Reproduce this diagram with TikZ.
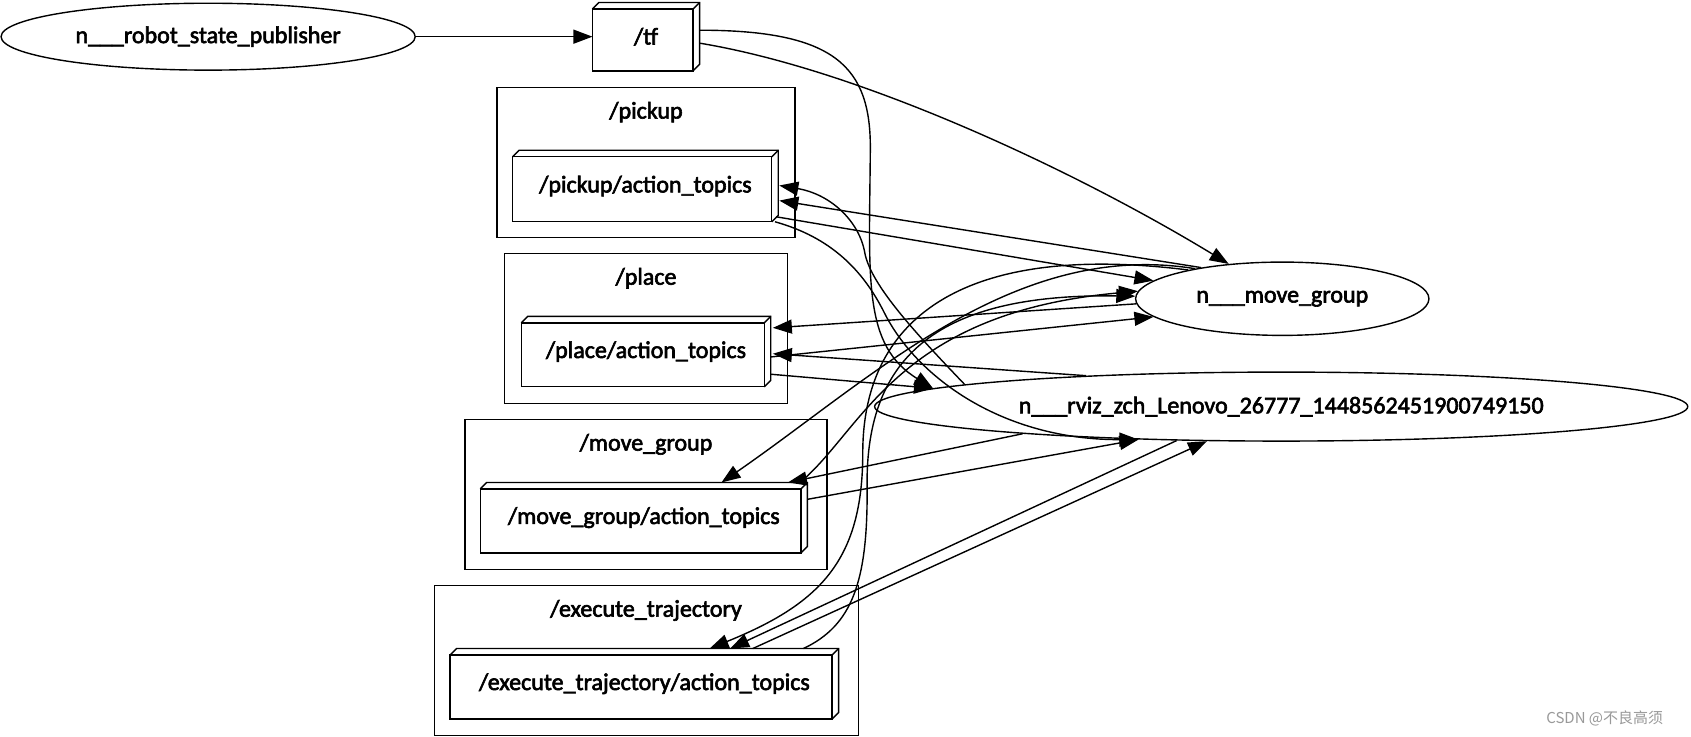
\documentclass[tikz,border=0pt]{standalone}
\usepackage{fontspec}
\setmainfont{Carlito}[FakeBold=2.5]
\newfontfamily\cjkfont{Noto Sans CJK SC}
\usetikzlibrary{arrows.meta,shapes.geometric}
\newcommand\boxthreed[1]{%
  \draw (#1.south west) rectangle ([shift={(-6,6)}]#1.north east);
  \draw ([shift={(0,6)}]#1.north west) -- ([shift={(6,0)}]#1.north west) -- (#1.north east) -- ([shift={(0,-6)}]#1.south east) -- ([shift={(-6,0)}]#1.south east);
  \draw ([shift={(-6,6)}]#1.north east) -- (#1.north east);
}
\begin{document}
\begin{tikzpicture}[x=1.0784pt,y=-1.0784pt,line width=1.4pt,
  lbl/.style={font=\fontsize{24}{26}\selectfont},
  ell/.style={draw,ellipse,inner sep=0pt,lbl},
  topicbox/.style={inner sep=0pt,lbl},
  clus/.style={draw,inner sep=0pt,minimum height=149.9pt},
  edge/.style={-{Triangle[length=19pt,width=14pt]}}]
\useasboundingbox (0,0) rectangle (1568,683);
\fill[white] (0,0) rectangle (1568,683);

% clusters
\node[clus,minimum width=297.6pt] (cpick) at (599,150.5) {};
\node[clus,minimum width=282.5pt] (cplace) at (599,304.5) {};
\node[clus,minimum width=362.3pt] (cmove) at (599,458.5) {};
\node[clus,minimum width=423.8pt] (cexec) at (599.5,612.5) {};
\node[lbl] (cpickL) at (599,104) {/pickup};
\node[lbl] (cplaceL) at (599,258) {/place};
\node[lbl] (cmoveL) at (599,412) {/move\_group};
\node[lbl] (cexecL) at (599,566) {/execute\_trajectory};

% ellipse nodes
\node[ell,minimum width=414.1pt,minimum height=66.9pt] (rsp) at (193,34) {n\_\_\_robot\_state\_publisher};
\node[ell,minimum width=293.3pt,minimum height=73.3pt] (mg) at (1189,277) {n\_\_\_move\_group};
\node[ell,minimum width=813.1pt,minimum height=69pt] (rviz) at (1188,377) {n\_\_\_rviz\_zch\_Lenovo\_26777\_1448562451900749150};

% topic boxes
\node[topicbox,minimum width=105.7pt,minimum height=66.9pt] (tf) at (599,34) {/tf};
\node[topicbox,minimum width=264.2pt,minimum height=70.1pt] (pa) at (598.5,172.5) {/pickup/action\_topics};
\node[topicbox,minimum width=248pt,minimum height=69pt] (pla) at (599,326) {/place/action\_topics};
\node[topicbox,minimum width=325.7pt,minimum height=69pt] (mga) at (597,480) {/move\_group/action\_topics};
\node[topicbox,minimum width=387.1pt,minimum height=69pt] (exa) at (597.5,634) {/execute\_trajectory/action\_topics};
\boxthreed{tf}
\boxthreed{pa}
\boxthreed{pla}
\boxthreed{mga}
\boxthreed{exa}

% edges
\draw[edge] (rsp.east) -- (tf.west);
\draw[edge] ([shift={(0,6)}]tf.east) .. controls (800,65) and (1000,160) .. (mg.147);
\draw[edge] ([shift={(0,-6)}]tf.east) .. controls (775,28) and (808,62) .. (807,140) .. controls (806,260) and (800,320) .. (rviz.177.3);

\draw[edge] (rviz.176.2) .. controls (850,310) and (808,265) .. (802,235) .. controls (797,205) and (770,180) .. ([shift={(1,-0.5)}]pa.east);
\draw[edge] (mg.159.8) -- ([shift={(1,13.5)}]pa.east);
\draw[edge] ([shift={(-2,28.5)}]pa.east) -- (mg.172.8);
\draw[edge] ([shift={(-3,0)}]pa.south east) .. controls (770,220) and (800,250) .. (820,290) .. controls (850,350) and (930,408) .. (rviz.193.8);

\draw[edge] (mg.182.6) -- ([shift={(2,-22)}]pla.east);
\draw[edge] (rviz.171.7) -- ([shift={(2,2)}]pla.east);
\draw[edge] ([shift={(0,5)}]pla.east) -- (mg.188);
\draw[edge] ([shift={(0,21)}]pla.east) -- (rviz.177.3);

\draw[edge] (mg.161.6) .. controls (940,222) and (810,350) .. ([shift={(72,0)}]mga.north);
\draw[edge] (rviz.186.6) -- ([shift={(-18,0)}]mga.north east);
\draw[edge] ([shift={(-8,1)}]mga.north east) .. controls (800,400) and (830,290) .. (mg.177.5);
\draw[edge] ([shift={(0,-17)}]mga.east) -- (rviz.193.8);

\draw[edge] (mg.163.7) .. controls (900,225) and (800,290) .. (800,420) .. controls (800,520) and (760,560) .. ([shift={(60.5,0)}]exa.north);
\draw[edge] (rviz.198.3) -- ([shift={(79.5,0)}]exa.north);
\draw[edge] ([shift={(100.5,0)}]exa.north) -- (rviz.205.5);
\draw[edge] ([shift={(147.5,0)}]exa.north) .. controls (790,580) and (805,540) .. (804,450) .. controls (803,330) and (870,272) .. (mg.179.2);

\node[text=black!40,font=\cjkfont\fontsize{15}{15}\selectfont] (wm) at (1488,666) {CSDN @不良高须};
\end{tikzpicture}
\end{document}
